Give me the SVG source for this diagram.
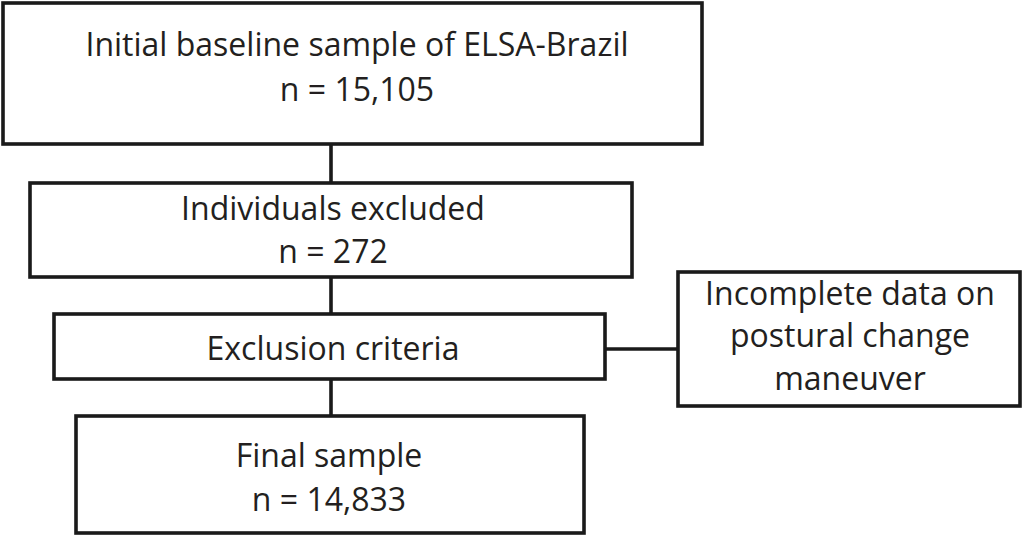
<svg xmlns="http://www.w3.org/2000/svg" width="1024" height="535" viewBox="0 0 1024 535">
<style>
.box{fill:#fff;stroke:#1a1a1a;stroke-width:3.6}
.lbl{font-family:"Open Sans","Noto Sans",sans-serif;font-size:32px;fill:#231f20;text-anchor:middle}
.conn{stroke:#1a1a1a;stroke-width:3.6;fill:none}
</style>
<rect width="1024" height="535" fill="#fff"/>
<g id="connectors">
<line class="conn" x1="331" y1="144" x2="331" y2="183"/>
<line class="conn" x1="331" y1="277" x2="331" y2="314"/>
<line class="conn" x1="331" y1="379" x2="331" y2="416"/>
<line class="conn" x1="605" y1="349" x2="678" y2="349"/>
</g>
<g id="initial">
<rect class="box" x="3" y="3" width="699" height="141"/>
<text class="lbl" x="357" y="56">Initial baseline sample of ELSA-Brazil</text>
<text class="lbl" x="357" y="101">n = 15,105</text>
</g>
<g id="excluded">
<rect class="box" x="30" y="183" width="602" height="94"/>
<text class="lbl" x="333" y="220">Individuals excluded</text>
<text class="lbl" x="333" y="263">n = 272</text>
</g>
<g id="criteria">
<rect class="box" x="54" y="314" width="551" height="65"/>
<text class="lbl" x="333" y="360">Exclusion criteria</text>
</g>
<g id="incomplete">
<rect class="box" x="678" y="272" width="342" height="134"/>
<text class="lbl" x="850" y="305">Incomplete data on</text>
<text class="lbl" x="850" y="347">postural change</text>
<text class="lbl" x="850" y="390">maneuver</text>
</g>
<g id="final">
<rect class="box" x="76" y="416" width="508" height="117"/>
<text class="lbl" x="329" y="467">Final sample</text>
<text class="lbl" x="329" y="511">n = 14,833</text>
</g>
</svg>
